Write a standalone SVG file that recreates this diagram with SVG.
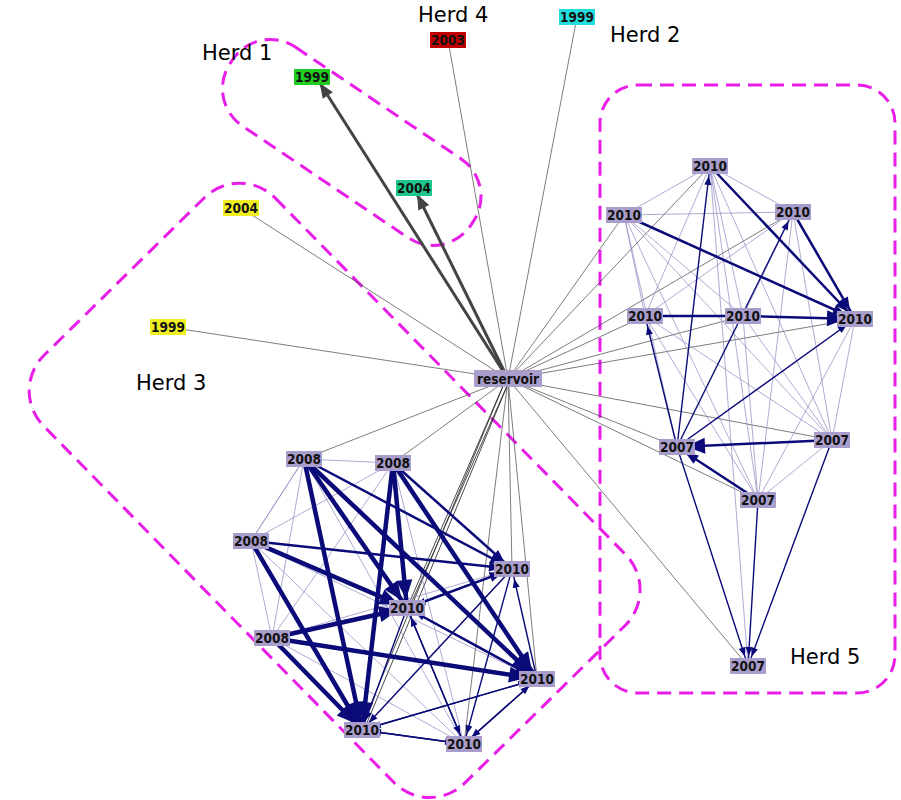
<svg xmlns="http://www.w3.org/2000/svg" width="901" height="800" viewBox="0 0 901 800">
<style>
.n rect{fill:#a99dcb}
.n text{font-family:"DejaVu Sans Condensed","DejaVu Sans",sans-serif;font-weight:bold;font-size:13.5px;text-anchor:middle;fill:#111}
.h{font-family:"DejaVu Sans",sans-serif;font-size:21px;fill:#000}
.herd{fill:none;stroke:#e81ee8;stroke-width:3;stroke-dasharray:14,8}
.r{stroke:#444;stroke-width:0.7;fill:none}
.lt{stroke:#8c86c0;stroke-width:0.7;fill:none}
.t1{stroke:#0a0a78;stroke-width:1.4;fill:none;marker-end:url(#m1)}
.t2{stroke:#0a0a78;stroke-width:2.5;fill:none;marker-end:url(#m2)}
.t3{stroke:#0a0a78;stroke-width:4.5;fill:none;marker-end:url(#m3)}
.g{stroke:#444;stroke-width:3;fill:none;marker-end:url(#mg)}
</style>
<defs>
<marker id="m1" markerUnits="userSpaceOnUse" orient="auto" overflow="visible" refX="19" refY="0" markerWidth="1" markerHeight="1"><path d="M0,-3.5 L9,0 L0,3.5z" fill="#0a0a78"/></marker>
<marker id="m2" markerUnits="userSpaceOnUse" orient="auto" overflow="visible" refX="23" refY="0" markerWidth="1" markerHeight="1"><path d="M0,-5 L13,0 L0,5z" fill="#0a0a78"/></marker>
<marker id="m3" markerUnits="userSpaceOnUse" orient="auto" overflow="visible" refX="28" refY="0" markerWidth="1" markerHeight="1"><path d="M0,-8 L19,0 L0,8z" fill="#0a0a78"/></marker>
<marker id="mg" markerUnits="userSpaceOnUse" orient="auto" overflow="visible" refX="22" refY="0" markerWidth="1" markerHeight="1"><path d="M0,-6 L15,0 L0,6z" fill="#444"/></marker>
</defs>
<rect width="901" height="800" fill="#fff"/>
<g id="herds">
<rect class="herd" x="207" y="95" width="290" height="95" rx="45" transform="rotate(34 352 142)"/>
<rect class="herd" x="35" y="328" width="600" height="325" rx="50" transform="rotate(45.5 335 490)"/>
<rect class="herd" x="600" y="85" width="295" height="608" rx="38"/>
</g>
<g id="herd-labels">
<text class="h" x="202" y="60">Herd 1</text>
<text class="h" x="418" y="22">Herd 4</text>
<text class="h" x="610" y="42">Herd 2</text>
<text class="h" x="136" y="390">Herd 3</text>
<text class="h" x="790" y="664">Herd 5</text>
</g>
<g id="connectors">
<path class="r" d="M508,379L448,40M508,379L577,17M508,379L241,208M508,379L168,327M508,379L624,215M508,379L710,166M508,379L793,212M508,379L645,316M508,379L743,316M508,379L855,319M508,379L677,447M508,379L832,440M508,379L758,500M508,379L748,666M508,379L304,459M508,379L393,463M508,379L512,569M508,379L537,679M508,379L464,744"/>
<path d="M506,379L407,608M510,379L409,608M506,379L360,730M510,379L364,730" stroke="#333" stroke-width="0.9"/>
<path class="g" d="M508,379L316,77"/>
<path class="g" d="M508,379L414,188"/>
<path class="lt" d="M304,459L393,463M304,459L251,541M304,459L272,638M393,463L251,541M393,463L272,638M251,541L272,638M304,459L464,744M251,541L464,744M272,638L464,744M393,463L464,744M251,541L512,569M272,638L512,569M251,541L537,679M304,459L251,541"/>
<path class="t3" d="M304,459L362,730"/>
<path class="t3" d="M304,459L407,608"/>
<path class="t2" d="M304,459L512,569"/>
<path class="t3" d="M304,459L537,679"/>
<path class="t3" d="M393,463L362,730"/>
<path class="t3" d="M393,463L407,608"/>
<path class="t2" d="M393,463L512,569"/>
<path class="t3" d="M393,463L537,679"/>
<path class="t3" d="M251,541L407,608"/>
<path class="t2" d="M251,541L512,569"/>
<path class="t3" d="M251,541L362,730"/>
<path class="t3" d="M272,638L407,608"/>
<path class="t3" d="M272,638L537,679"/>
<path class="t3" d="M272,638L362,730"/>
<path class="t2" d="M407,608L512,569"/>
<path class="t1" d="M512,569L407,608"/>
<path class="t2" d="M407,608L537,679"/>
<path class="t1" d="M537,679L407,608"/>
<path class="t1" d="M512,569L362,730"/>
<path class="t1" d="M407,608L362,730"/>
<path class="t1" d="M407,608L464,744"/>
<path class="t1" d="M464,744L407,608"/>
<path class="t1" d="M512,569L464,744"/>
<path class="t1" d="M537,679L512,569"/>
<path class="t1" d="M362,730L537,679"/>
<path class="t1" d="M537,679L362,730"/>
<path class="t1" d="M362,730L464,744"/>
<path class="t1" d="M464,744L362,730"/>
<path class="t1" d="M464,744L537,679"/>
<path class="t1" d="M537,679L464,744"/>
<path class="lt" d="M710,166L624,215M710,166L793,212M624,215L793,212M710,166L645,316M710,166L743,316M710,166L832,440M710,166L758,500M710,166L748,666M624,215L645,316M624,215L743,316M624,215L677,447M624,215L832,440M624,215L758,500M793,212L645,316M793,212L743,316M793,212L758,500M793,212L832,440M645,316L832,440M645,316L758,500M743,316L832,440M743,316L758,500M855,319L832,440M855,319L758,500M855,319L677,447M832,440L758,500"/>
<path class="t2" d="M710,166L855,319"/>
<path class="t2" d="M624,215L855,319"/>
<path class="t2" d="M793,212L855,319"/>
<path d="M645,316L743,316" stroke="#0a0a78" stroke-width="2.5"/>
<path class="t2" d="M743,316L855,319" style="marker-end:url(#m3)"/>
<path class="t1" d="M677,447L645,316"/>
<path class="t1" d="M677,447L710,166"/>
<path class="t1" d="M677,447L793,212"/>
<path class="t1" d="M677,447L855,319"/>
<path class="t2" d="M832,440L677,447" style="marker-end:url(#m3)"/>
<path class="t2" d="M758,500L677,447"/>
<path class="t1" d="M677,447L748,666"/>
<path class="t1" d="M758,500L748,666"/>
<path class="t1" d="M832,440L748,666"/>
</g>
<g id="nodes">
<g class="n" id="reservoir"><rect x="474" y="370" width="68" height="17"/><text x="508" y="384">reservoir</text></g>
<g class="n" id="h1-1999"><rect x="294" y="69" width="36" height="16" style="fill:#22cc22"/><text x="312" y="82">1999</text></g>
<g class="n" id="h1-2004"><rect x="396" y="180" width="36" height="16" style="fill:#1dc78a"/><text x="414" y="193">2004</text></g>
<g class="n" id="h4-2003"><rect x="430" y="32" width="36" height="16" style="fill:#c00000"/><text x="448" y="45">2003</text></g>
<g class="n" id="h2-1999"><rect x="559" y="9" width="36" height="16" style="fill:#22dddd"/><text x="577" y="22">1999</text></g>
<g class="n" id="h3-2004"><rect x="223" y="200" width="36" height="16" style="fill:#eeee22"/><text x="241" y="213">2004</text></g>
<g class="n" id="h3-1999"><rect x="150" y="319" width="36" height="16" style="fill:#eeee22"/><text x="168" y="332">1999</text></g>
<g class="n" id="h3a"><rect x="286" y="451" width="36" height="16"/><text x="304" y="464">2008</text></g>
<g class="n" id="h3b"><rect x="375" y="455" width="36" height="16"/><text x="393" y="468">2008</text></g>
<g class="n" id="h3c"><rect x="233" y="533" width="36" height="16"/><text x="251" y="546">2008</text></g>
<g class="n" id="h3d"><rect x="254" y="630" width="36" height="16"/><text x="272" y="643">2008</text></g>
<g class="n" id="h3e"><rect x="389" y="600" width="36" height="16"/><text x="407" y="613">2010</text></g>
<g class="n" id="h3f"><rect x="494" y="561" width="36" height="16"/><text x="512" y="574">2010</text></g>
<g class="n" id="h3g"><rect x="519" y="671" width="36" height="16"/><text x="537" y="684">2010</text></g>
<g class="n" id="h3h"><rect x="344" y="722" width="36" height="16"/><text x="362" y="735">2010</text></g>
<g class="n" id="h3i"><rect x="446" y="736" width="36" height="16"/><text x="464" y="749">2010</text></g>
<g class="n" id="h5p"><rect x="692" y="158" width="36" height="16"/><text x="710" y="171">2010</text></g>
<g class="n" id="h5q"><rect x="606" y="207" width="36" height="16"/><text x="624" y="220">2010</text></g>
<g class="n" id="h5r"><rect x="775" y="204" width="36" height="16"/><text x="793" y="217">2010</text></g>
<g class="n" id="h5s"><rect x="627" y="308" width="36" height="16"/><text x="645" y="321">2010</text></g>
<g class="n" id="h5t"><rect x="725" y="308" width="36" height="16"/><text x="743" y="321">2010</text></g>
<g class="n" id="h5u"><rect x="837" y="311" width="36" height="16"/><text x="855" y="324">2010</text></g>
<g class="n" id="h5v"><rect x="659" y="439" width="36" height="16"/><text x="677" y="452">2007</text></g>
<g class="n" id="h5w"><rect x="814" y="432" width="36" height="16"/><text x="832" y="445">2007</text></g>
<g class="n" id="h5x"><rect x="740" y="492" width="36" height="16"/><text x="758" y="505">2007</text></g>
<g class="n" id="h5y"><rect x="730" y="658" width="36" height="16"/><text x="748" y="671">2007</text></g>
</g>
</svg>
